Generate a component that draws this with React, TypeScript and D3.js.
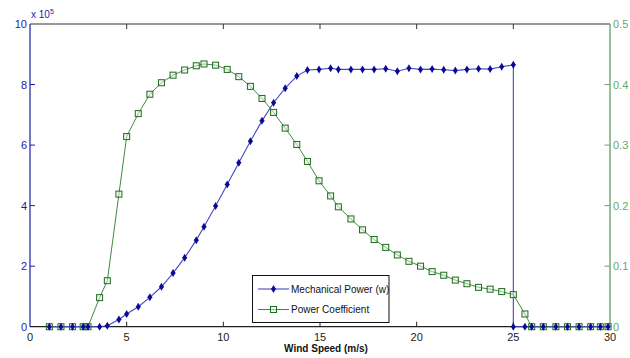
import React from "react";
import * as d3 from "d3";

const windSpeed = [1, 1.6, 2.2, 2.75, 3, 3.6, 4, 4.6, 5, 5.6, 6.2, 6.8, 7.4, 8, 8.6, 9, 9.6, 10.2, 10.8, 11.4, 12, 12.6, 13.2, 13.8, 14.35, 14.95, 15.55, 15.95, 16.6, 17.2, 17.8, 18.4, 19, 19.6, 20.2, 20.8, 21.4, 22, 22.6, 23.2, 23.8, 24.4, 25, 25.6, 25.95, 26.55, 27.2, 27.8, 28.4, 29, 29.5, 29.9];

const powerCoefficient = [0, 0, 0, 0, 0, 0.048, 0.076, 0.219, 0.314, 0.352, 0.384, 0.403, 0.4155, 0.424, 0.431, 0.434, 0.432, 0.425, 0.413, 0.397, 0.377, 0.354, 0.328, 0.301, 0.273, 0.241, 0.216, 0.198, 0.178, 0.16, 0.144, 0.131, 0.1185, 0.108, 0.1, 0.091, 0.085, 0.077, 0.071, 0.065, 0.062, 0.058, 0.053, 0.021, 0, 0, 0, 0, 0, 0, 0, 0];

// mechanical power in units of 1e5 W
const powerWindSpeed = [1, 1.6, 2.2, 2.75, 3, 3.6, 4, 4.6, 5, 5.6, 6.2, 6.8, 7.4, 8, 8.6, 9, 9.6, 10.2, 10.8, 11.4, 12, 12.6, 13.2, 13.8, 14.35, 14.95, 15.55, 15.95, 16.6, 17.2, 17.8, 18.4, 19, 19.6, 20.2, 20.8, 21.4, 22, 22.6, 23.2, 23.8, 24.4, 25, 25, 25.6, 25.95, 26.55, 27.2, 27.8, 28.4, 29, 29.5, 29.9];
const mechanicalPower = [0, 0, 0, 0, 0, 0, 0.03, 0.24, 0.42, 0.66, 0.97, 1.32, 1.77, 2.28, 2.86, 3.3, 3.99, 4.7, 5.42, 6.13, 6.8, 7.4, 7.88, 8.28, 8.48, 8.5, 8.54, 8.5, 8.5, 8.5, 8.5, 8.52, 8.44, 8.54, 8.5, 8.51, 8.49, 8.46, 8.5, 8.52, 8.51, 8.59, 8.65, 0, 0, 0, 0, 0, 0, 0, 0, 0, 0];

const xTicks = [0, 5, 10, 15, 20, 25, 30];
const leftTicks = [0, 2, 4, 6, 8, 10];
const rightTicks = [0, 0.1, 0.2, 0.3, 0.4, 0.5];

const legendLabels = ["Mechanical Power (w)", "Power Coefficient"];

const W = 630;
const H = 358;
const L = 30, R = 610, T = 24, B = 326.7;

const BLUE_AX = "#1c1ca8";
const BLUE_LINE = "#4848c0";
const BLUE_MK = "#0a0a96";
const GREEN_AX = "#6aa66a";
const GREEN_LINE = "#3f8a3f";
const GREEN_MK = "#1f6b1f";
const FONT = "Liberation Sans, Arial, sans-serif";

export default function App() {
  const x = d3.scaleLinear().domain([0, 30]).range([L, R]);
  const yL = d3.scaleLinear().domain([0, 10]).range([B, T]);
  const yR = d3.scaleLinear().domain([0, 0.5]).range([B, T]);

  const linePow = d3.line<number>().x((_, i) => x(powerWindSpeed[i])).y((d) => yL(d));
  const lineCp = d3.line<number>().x((_, i) => x(windSpeed[i])).y((d) => yR(d));

  const diamond = (cx: number, cy: number, key: string) => (
    <g key={key}>
      <path d={`M${cx},${cy - 4} L${cx + 2.4},${cy} L${cx},${cy + 4} L${cx - 2.4},${cy} Z`} fill={BLUE_MK} />
      <line x1={cx - 2.5} x2={cx + 2.5} y1={cy} y2={cy} stroke={BLUE_MK} strokeWidth={0.8} />
    </g>
  );
  const square = (cx: number, cy: number, key: string) => (
    <rect key={key} x={cx - 3} y={cy - 3} width={6} height={6} fill="#e4f1e4" fillOpacity={0.5} stroke={GREEN_MK} strokeWidth={1} />
  );

  return (
    <svg width={W} height={H} style={{ position: "absolute", left: 0, top: 0, background: "#fff" }} fontFamily={FONT}>
      <rect x={0} y={0} width={W} height={H} fill="#fff" />
      {/* frame */}
      <line x1={L} x2={R} y1={T} y2={T} stroke="#333" strokeWidth={1.2} />
      <line x1={L} x2={R} y1={B} y2={B} stroke="#222" strokeWidth={1.2} />
      <line x1={L} x2={L} y1={T} y2={B} stroke={BLUE_AX} strokeWidth={1.2} />
      <line x1={R} x2={R} y1={T} y2={B} stroke={GREEN_AX} strokeWidth={1.4} />

      {/* x ticks */}
      {xTicks.map((t) => (
        <g key={"xt" + t}>
          {t > 0 && t < 30 && (
            <>
              <line x1={x(t)} x2={x(t)} y1={B} y2={B - 5} stroke="#222" />
              <line x1={x(t)} x2={x(t)} y1={T} y2={T + 5} stroke="#333" />
            </>
          )}
          <text x={x(t)} y={341} textAnchor="middle" fontSize={11} fill="#222">{t}</text>
        </g>
      ))}
      <text x={326} y={352} textAnchor="middle" fontSize={10} fontWeight="bold" fill="#111">Wind Speed (m/s)</text>

      {/* left ticks */}
      {leftTicks.map((t) => (
        <g key={"lt" + t}>
          {t > 0 && t < 10 && <line x1={L} x2={L + 5} y1={yL(t)} y2={yL(t)} stroke={BLUE_AX} />}
          <text x={L - 3} y={yL(t) + 4} textAnchor="end" fontSize={11} fill={BLUE_AX}>{t}</text>
        </g>
      ))}
      <text x={31} y={18} fontSize={10} fill={BLUE_AX}>x 10<tspan fontSize={7} dy={-4}>5</tspan></text>

      {/* right ticks */}
      {rightTicks.map((t) => (
        <g key={"rt" + t}>
          {t > 0 && t < 0.5 && <line x1={R - 5.5} x2={R} y1={yR(t)} y2={yR(t)} stroke={GREEN_AX} />}
          <text x={R + 3} y={yR(t) + 4} textAnchor="start" fontSize={11} fill={GREEN_AX}>{t}</text>
        </g>
      ))}

      {/* series */}
      <path d={lineCp(powerCoefficient) || ""} fill="none" stroke={GREEN_LINE} strokeWidth={1} />
      <path d={linePow(mechanicalPower) || ""} fill="none" stroke={BLUE_LINE} strokeWidth={1.1} />
      {powerCoefficient.map((d, i) => square(x(windSpeed[i]), yR(d), "s" + i))}
      {mechanicalPower.map((d, i) => diamond(x(powerWindSpeed[i]), yL(d), "d" + i))}

      {/* legend */}
      <rect x={252.5} y={275.5} width={136.5} height={47} fill="#fff" stroke="#111" strokeWidth={1} />
      <line x1={258} x2={289} y1={289} y2={289} stroke={BLUE_LINE} strokeWidth={1.1} />
      {diamond(273.5, 289, "ld")}
      <text x={291} y={292.5} fontSize={10} fill="#111">{legendLabels[0]}</text>
      <line x1={258} x2={289} y1={309.5} y2={309.5} stroke={GREEN_LINE} strokeWidth={1} />
      {square(273.5, 309.5, "ls")}
      <text x={291} y={313} fontSize={10} fill="#111">{legendLabels[1]}</text>
    </svg>
  );
}
